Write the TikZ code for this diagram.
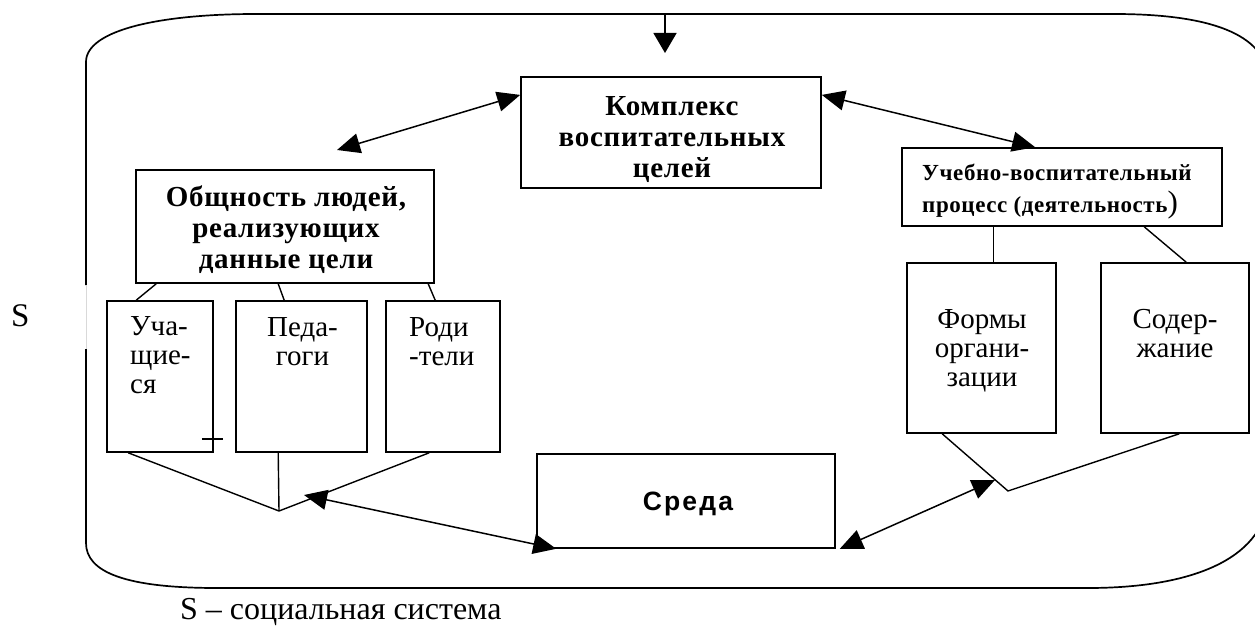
\documentclass[tikz,border=0pt]{standalone}
\usepackage{fontspec}
\setmainfont{Liberation Serif}
\newfontfamily\spserif[LetterSpace=2.5]{Liberation Serif}
\newfontfamily\spsans[LetterSpace=8]{Liberation Sans}
\usetikzlibrary{arrows.meta,calc}
\tikzset{
  box/.style={draw, line width=1.6pt, inner sep=0pt},
  conn/.style={line width=1.4pt},
  tip/.tip={Triangle[length=23pt,width=20pt]},
  dbl/.style={line width=1.5pt, tip-tip},
  sgl/.style={line width=1.5pt, -{Triangle[length=20pt,width=23pt]}},
  bigb/.style={font=\spserif\fontsize{29}{31}\selectfont\bfseries, align=center, inner sep=0pt},
  midb/.style={font=\spserif\fontsize{23}{32}\selectfont\bfseries, align=left, inner sep=0pt},
  regc/.style={font=\fontsize{29}{29}\selectfont, align=center, inner sep=0pt},
  regl/.style={font=\fontsize{29}{29}\selectfont, align=left, inner sep=0pt},
  sansb/.style={font=\spsans\fontsize{26.5}{28}\selectfont\bfseries, inner sep=0pt},
  plain/.style={font=\fontsize{32}{34}\selectfont, inner sep=0pt},
}
\begin{document}
\begin{tikzpicture}[x=1pt,y=-1pt]
\useasboundingbox (0,0) rectangle (1255,626);
\fill[white] (0,0) rectangle (1255,626);

% outer social system contour
\begin{scope}
\clip (0,0) rectangle (1255,626);
\draw[line width=1.7pt] (86,285) -- (86,62) .. controls (86,30) and (160,14) .. (256,14)
  -- (1114,14) .. controls (1200,14) and (1262,30) .. (1268,75) -- (1268,500)
  .. controls (1262,560) and (1190,588) .. (1088,588) -- (217,588)
  .. controls (125,588) and (86,572) .. (86,543) -- (86,349);
\draw[gray!30, line width=0.6pt] (86,285) -- (86,349);
\end{scope}

% boxes
\node[box, minimum width=300pt, minimum height=111pt] (komp) at (671,132.5) {};
\node[box, minimum width=298pt, minimum height=113pt] (obsh) at (285,226.5) {};
\node[box, minimum width=106pt, minimum height=151pt] (uchas) at (160,376.5) {};
\node[box, minimum width=131pt, minimum height=151pt] (ped) at (301.5,376.5) {};
\node[box, minimum width=114pt, minimum height=151pt] (rod) at (443,376.5) {};
\node[box, minimum width=320pt, minimum height=78pt] (uvp) at (1062,187) {};
\node[box, minimum width=149pt, minimum height=170pt] (form) at (981.5,348) {};
\node[box, minimum width=148pt, minimum height=170pt] (sod) at (1175,348) {};
\node[box, minimum width=298pt, minimum height=94pt] (sreda) at (686,501) {};

% texts
\node[bigb] (tkomp) at (672,140) {Комплекс\\воспитательных\\целей};
\node[bigb] (tobsh) at (286,230) {Общность людей,\\реализующих\\данные цели};
\node[midb, anchor=west] (tuvp) at (922,192) {Учебно-воспитательный\\процесс (деятельность{\mdseries\fontsize{31}{31}\selectfont )}};
\node[regl, anchor=west] (tuchas) at (130,355) {Уча-\\щие-\\ся};
\node[regc] (tped) at (302.5,342) {Педа-\\гоги};
\node[regl, anchor=west] (trod) at (409,342) {Роди\\-тели};
\node[regc] (tform) at (982,351) {Формы\\органи-\\зации};
\node[regc] (tsod) at (1175,334) {Содер-\\жание};
\node[sansb] (tsreda) at (688,504) {Среда};
\node[plain, font=\fontsize{33}{33}\selectfont, anchor=base west] (slab) at (11,326) {S};
\node[plain, anchor=base west] (cap) at (180,619) {S – социальная система};

% coordinates for free ends
\coordinate (topin) at (665,14);
\coordinate (topout) at (665,53);
\coordinate (obshtip) at (337,150);
\coordinate (apex) at (279,511);
\coordinate (ltip) at (304,495);
\coordinate (rapex) at (1008,491);
\coordinate (rtip) at (995,480);

% arrows
\draw[sgl] (topin) -- (topout);
\draw[dbl] (komp.166) -- (obshtip);
\draw[dbl] (komp.14) -- (uvp.124.7);

% tree lines left
\draw[conn] ($(obsh.south west)+(21,0)$) -- ($(uchas.north west)+(30,0)$);
\draw[conn] ($(obsh.south west)+(143,0)$) -- ($(ped.north west)+(49,0)$);
\draw[conn] ($(obsh.south west)+(293,0)$) -- ($(rod.north west)+(50,0)$);
\draw[conn] ($(uchas.south west)+(22,0)$) -- (apex);
\draw[conn] ($(ped.south west)+(43,0)$) -- (apex);
\draw[conn] ($(rod.south west)+(44,0)$) -- (apex);
\draw[conn] ($(uchas.south east)+(-12,-14)$) -- ($(uchas.south east)+(9,-14)$);
\draw[dbl] ($(sreda.south west)+(20,0)$) -- (ltip);

% tree lines right
\draw[conn] ($(uvp.south west)+(92,0)$) -- ($(form.north west)+(87,0)$);
\draw[conn] ($(uvp.south west)+(243,0)$) -- ($(sod.north west)+(86,0)$);
\draw[conn] ($(form.south west)+(36,0)$) -- (rapex) -- ($(sod.south west)+(79,0)$);
\draw[dbl] ($(sreda.south east)+(4,0)$) -- (rtip);
\end{tikzpicture}
\end{document}
